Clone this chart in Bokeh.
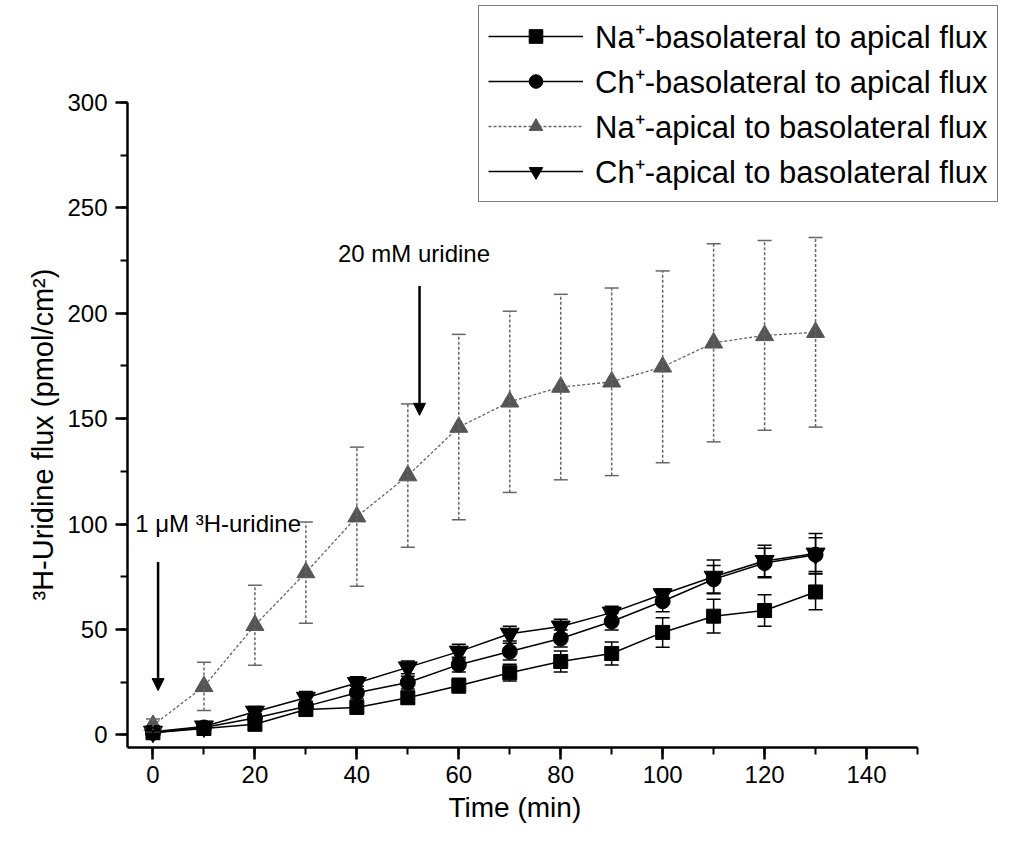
from bokeh.plotting import figure
from bokeh.models import (Range1d, SingleIntervalTicker, ColumnDataSource, Whisker,
                          TeeHead, Arrow, NormalHead, Legend, LegendItem, Title)
from bokeh.core.properties import value
from bokeh.embed import file_html
from bokeh.resources import INLINE

FONT = "Liberation Sans"

# ---- data ----
time = [0, 10, 20, 30, 40, 50, 60, 70, 80, 90, 100, 110, 120, 130]

na_ba = [1.0, 3.0, 5.0, 12.0, 13.0, 17.6, 23.3, 29.5, 34.8, 38.6, 48.6, 56.3, 59.0, 67.8]
na_ba_err = [1.0, 1.5, 2.0, 2.0, 2.5, 3.0, 3.5, 4.0, 5.0, 5.5, 7.0, 8.0, 7.5, 8.5]

ch_ba = [1.0, 3.5, 8.0, 13.5, 20.0, 24.8, 33.3, 39.5, 45.7, 53.8, 63.4, 73.8, 81.5, 85.5]
ch_ba_err = [1.0, 1.5, 2.0, 2.5, 3.0, 3.0, 3.5, 4.0, 4.0, 4.0, 5.0, 6.5, 7.0, 8.0]

na_ab = [4.5, 23.0, 52.0, 77.0, 103.5, 123.0, 146.0, 158.0, 165.0, 167.5, 174.6, 186.0, 189.5, 191.0]
na_ab_err = [3.0, 11.5, 19.0, 24.0, 33.0, 34.0, 44.0, 43.0, 44.0, 44.5, 45.5, 47.0, 45.0, 45.0]

ch_ab = [1.5, 4.0, 11.0, 17.6, 24.6, 32.0, 39.5, 48.0, 51.4, 58.0, 66.7, 75.0, 82.5, 86.0]
ch_ab_err = [1.5, 2.0, 2.5, 3.0, 3.0, 3.0, 3.5, 3.5, 3.5, 3.0, 2.5, 8.0, 7.5, 9.5]

labels = ["Na\u207a-basolateral to apical flux",
          "Ch\u207a-basolateral to apical flux",
          "Na\u207a-apical to basolateral flux",
          "Ch\u207a-apical to basolateral flux"]

X_AXIS_BOUNDS = (-5, 150)
Y_AXIS_BOUNDS = (-6, 300)

# frame spans the whole upper-right area so the legend box is not clipped;
# the axes themselves are limited to their bounds
p = figure(width=1028, height=844, output_backend="svg", toolbar_location=None,
           x_range=Range1d(-5, 171.78), y_range=Range1d(-6, 348.4),
           min_border_left=127, min_border_right=0, min_border_top=0,
           min_border_bottom=97)
p.outline_line_color = None
p.grid.visible = False
p.background_fill_color = "white"
p.border_fill_color = "white"

# axes
p.xaxis.ticker = SingleIntervalTicker(interval=20, num_minor_ticks=2)
p.yaxis.ticker = SingleIntervalTicker(interval=50, num_minor_ticks=2)
p.xaxis.bounds = X_AXIS_BOUNDS
p.yaxis.bounds = Y_AXIS_BOUNDS
for ax in (p.xaxis[0], p.yaxis[0]):
    ax.axis_line_width = 2.5
    ax.axis_line_color = "black"
    ax.major_tick_line_width = 2.5
    ax.minor_tick_line_width = 2
    ax.major_tick_out = 12
    ax.major_tick_in = 0
    ax.minor_tick_out = 7
    ax.minor_tick_in = 0
    ax.major_label_text_font = FONT
    ax.major_label_text_font_size = "24px"
    ax.major_label_text_color = "black"
p.xaxis.major_label_standoff = 6
p.yaxis.major_label_standoff = 8

# axis titles (placed as titles so they centre on the axis extent, not the frame)
xt = Title(text="Time (min)", align="left", offset=321, text_font=FONT,
           text_font_size="28px", text_font_style="normal", text_color="black",
           standoff=8)
p.add_layout(xt, "below")
yt = Title(text="\u00b3H-Uridine flux (pmol/cm\u00b2)", align="left", offset=147,
           text_font=FONT, text_font_size="29px", text_font_style="normal",
           text_color="black", standoff=12)
p.add_layout(yt, "left")

series = [
    dict(y=ch_ab, e=ch_ab_err, label=labels[3], marker="inverted_triangle", size=19,
         fill="black", color="black", dash="solid", width=1.5, edash="solid"),
    dict(y=na_ab, e=na_ab_err, label=labels[2], marker="triangle", size=18,
         fill="#555555", color="#666666", dash="3 2", width=1.3, edash="3 2"),
    dict(y=ch_ba, e=ch_ba_err, label=labels[1], marker="circle", size=15,
         fill="black", color="black", dash="solid", width=1.5, edash="solid"),
    dict(y=na_ba, e=na_ba_err, label=labels[0], marker="square", size=14,
         fill="black", color="black", dash="solid", width=1.5, edash="solid"),
]

items = {}
for s in series:
    src = ColumnDataSource(dict(
        x=time, y=s["y"],
        upper=[a + b for a, b in zip(s["y"], s["e"])],
        lower=[a - b for a, b in zip(s["y"], s["e"])]))
    w = Whisker(source=src, base="x", upper="upper", lower="lower",
                line_color=s["color"], line_width=1.5, line_dash=s["edash"],
                upper_head=TeeHead(size=14, line_color=s["color"], line_width=1.5),
                lower_head=TeeHead(size=14, line_color=s["color"], line_width=1.5),
                level="glyph")
    p.add_layout(w)
    ln = p.line("x", "y", source=src, line_color=s["color"], line_width=s["width"],
                line_dash=s["dash"])
    sc = p.scatter("x", "y", source=src, marker=s["marker"], size=s["size"],
                   fill_color=s["fill"], line_color=s["fill"])
    items[s["label"]] = [ln, sc]

legend = Legend(items=[LegendItem(label=lab, renderers=items[lab]) for lab in labels],
                location=(351, 545))
legend.border_line_color = "black"
legend.border_line_width = 1.5
legend.background_fill_color = "white"
legend.background_fill_alpha = 1.0
legend.label_text_font = FONT
legend.label_text_font_size = "31px"
legend.label_text_color = "black"
legend.glyph_width = 95
legend.glyph_height = 34
legend.label_height = 34
legend.spacing = 3
legend.padding = 9
legend.margin = 0
legend.label_standoff = 12
p.add_layout(legend, "center")

# annotations
p.text(x=[-3.5], y=[100.3], text=["1 \u03bcM \u00b3H-uridine"], text_align="left",
       text_baseline="middle", text_font=value(FONT), text_font_size="24px",
       text_color="black")
p.text(x=[36.3], y=[228.6], text=["20 mM uridine"], text_align="left",
       text_baseline="middle", text_font=value(FONT), text_font_size="24px",
       text_color="black")
p.add_layout(Arrow(x_start=1.0, y_start=82, x_end=1.0, y_end=21,
                   line_width=2.5, line_color="black",
                   end=NormalHead(size=12, fill_color="black", line_color="black")))
p.add_layout(Arrow(x_start=52.3, y_start=213, x_end=52.3, y_end=151.6,
                   line_width=2.5, line_color="black",
                   end=NormalHead(size=12, fill_color="black", line_color="black")))

open("out.html", "w").write(file_html(p, INLINE))
